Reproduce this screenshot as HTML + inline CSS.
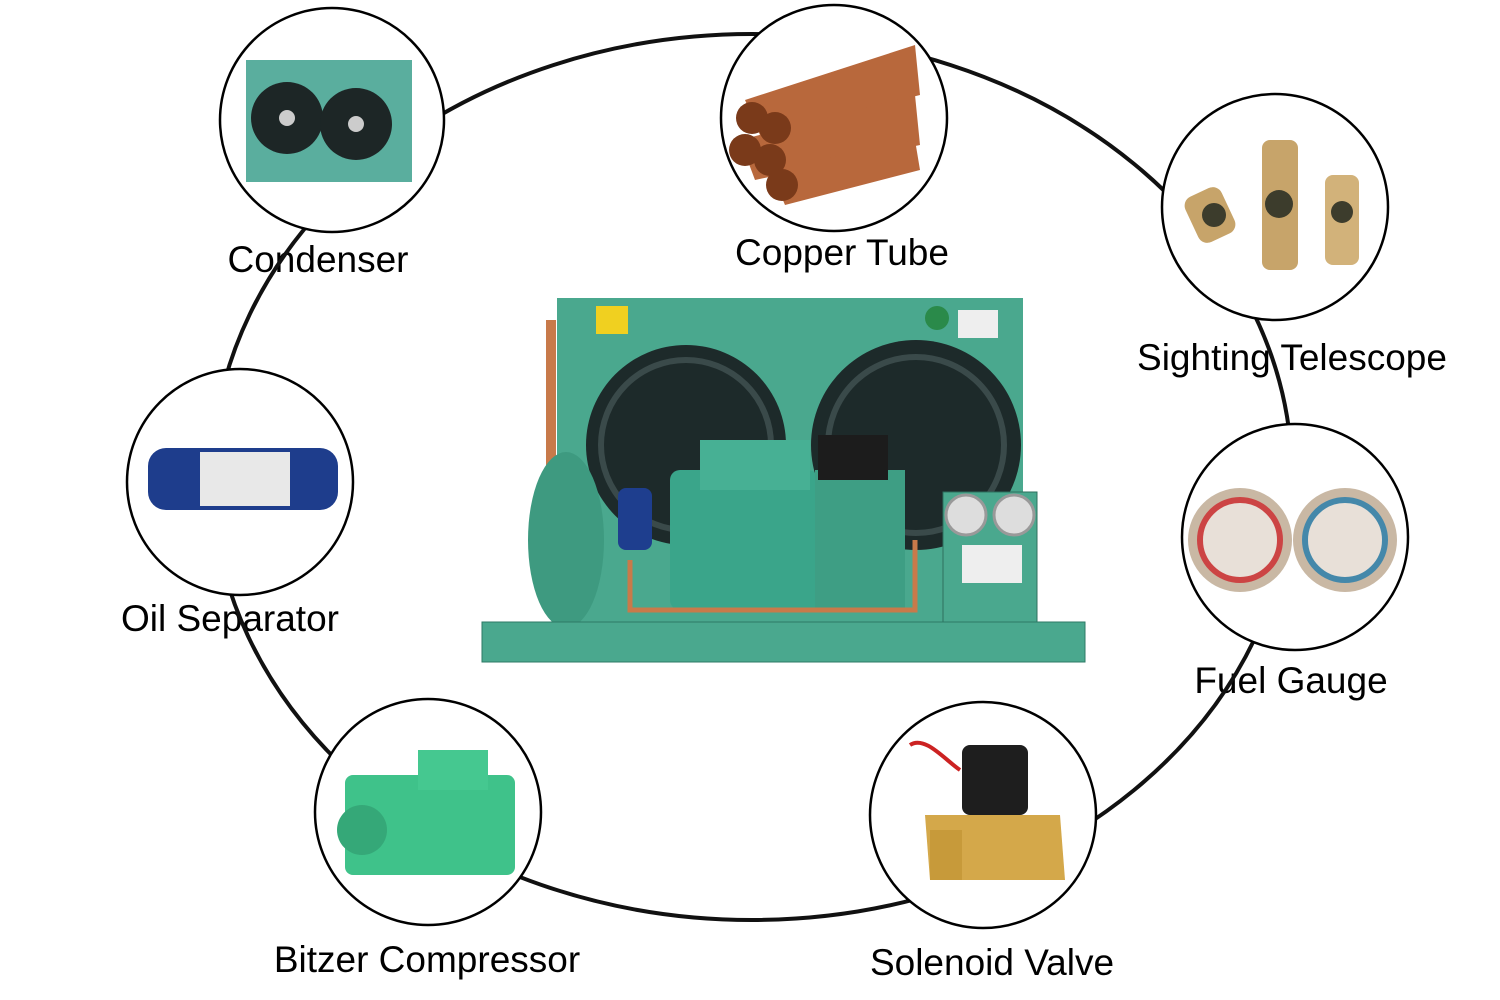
<!DOCTYPE html>
<html><head><meta charset="utf-8"><style>
html,body{margin:0;padding:0;background:#fff;}
svg{display:block}
text{font-family:"Liberation Sans",Arial,sans-serif;font-size:37px;fill:#000;text-anchor:middle}
</style></head><body>
<svg width="1500" height="1000" viewBox="0 0 1500 1000" xmlns="http://www.w3.org/2000/svg">
<!-- labels -->
<text x="318" y="272">Condenser</text>
<text x="842" y="265">Copper Tube</text>
<text x="1292" y="370">Sighting Telescope</text>
<text x="230" y="631">Oil Separator</text>
<text x="1291" y="693">Fuel Gauge</text>
<text x="427" y="972">Bitzer Compressor</text>
<text x="992" y="975">Solenoid Valve</text>
<!-- loop -->
<ellipse cx="752" cy="477" rx="540" ry="443" fill="none" stroke="#111" stroke-width="4"/>

<!-- central unit -->
<rect x="557" y="298" width="466" height="330" fill="#4aa88e"/>
<circle cx="686" cy="445" r="100" fill="#1d2a2a"/>
<circle cx="686" cy="445" r="85" fill="none" stroke="#3a4a4a" stroke-width="6"/>
<circle cx="916" cy="445" r="105" fill="#1d2a2a"/>
<circle cx="916" cy="445" r="88" fill="none" stroke="#3a4a4a" stroke-width="6"/>
<rect x="596" y="306" width="32" height="28" fill="#f0d020"/>
<rect x="958" y="310" width="40" height="28" fill="#eee"/>
<circle cx="937" cy="318" r="12" fill="#2a8a4a"/>
<rect x="546" y="320" width="10" height="150" fill="#c87a4a"/>
<ellipse cx="566" cy="540" rx="38" ry="88" fill="#3e9a80"/>
<rect x="618" y="488" width="34" height="62" rx="8" fill="#1e3e8e"/>
<rect x="670" y="470" width="148" height="140" rx="10" fill="#3aa58a"/>
<rect x="700" y="440" width="110" height="50" fill="#47b094"/>
<rect x="815" y="470" width="90" height="140" fill="#3e9e84"/>
<rect x="818" y="435" width="70" height="45" fill="#1c1c1c"/>
<rect x="943" y="492" width="94" height="144" fill="#4aa88e" stroke="#2d6f5e"/>
<circle cx="966" cy="515" r="20" fill="#ddd" stroke="#999" stroke-width="3"/>
<circle cx="1014" cy="515" r="20" fill="#ddd" stroke="#999" stroke-width="3"/>
<rect x="962" y="545" width="60" height="38" fill="#eee"/>
<path d="M630 560 V610 H915 V540" fill="none" stroke="#c87a4a" stroke-width="5"/>
<rect x="482" y="622" width="603" height="40" fill="#4aa88e" stroke="#2d7a66"/>

<!-- circles -->
<g fill="#fff" stroke="#000" stroke-width="2.5">
<circle cx="332" cy="120" r="112"/>
<circle cx="834" cy="118" r="113"/>
<circle cx="1275" cy="207" r="113"/>
<circle cx="240" cy="482" r="113"/>
<circle cx="1295" cy="537" r="113"/>
<circle cx="428" cy="812" r="113"/>
<circle cx="983" cy="815" r="113"/>
</g>

<!-- condenser -->
<rect x="246" y="60" width="166" height="122" fill="#5aae9e"/>
<circle cx="287" cy="118" r="36" fill="#1d2626"/>
<circle cx="356" cy="124" r="36" fill="#1d2626"/>
<circle cx="287" cy="118" r="8" fill="#ccc"/><circle cx="356" cy="124" r="8" fill="#ccc"/>
<!-- copper tubes -->
<g fill="#b8683c">
<path d="M745 100 L915 45 L920 95 L760 135 Z"/>
<path d="M740 140 L915 95 L920 145 L755 180 Z"/>
<path d="M770 170 L915 140 L920 170 L785 205 Z"/>
</g>
<g fill="#7a3a1a"><circle cx="752" cy="118" r="16"/><circle cx="775" cy="128" r="16"/><circle cx="745" cy="150" r="16"/><circle cx="770" cy="160" r="16"/><circle cx="782" cy="185" r="16"/></g>
<!-- sight glasses -->
<rect x="1262" y="140" width="36" height="130" rx="8" fill="#c7a46a"/>
<circle cx="1279" cy="204" r="14" fill="#3c3c2c"/>
<rect x="1190" y="190" width="40" height="50" rx="10" fill="#c7a46a" transform="rotate(-25 1210 215)"/>
<circle cx="1214" cy="215" r="12" fill="#3c3c2c"/>
<rect x="1325" y="175" width="34" height="90" rx="8" fill="#d2b27a"/>
<circle cx="1342" cy="212" r="11" fill="#3c3c2c"/>
<!-- oil separator -->
<rect x="148" y="448" width="190" height="62" rx="18" fill="#1e3d8c"/>
<rect x="200" y="452" width="90" height="54" fill="#e8e8e8"/>
<!-- fuel gauges -->
<circle cx="1240" cy="540" r="52" fill="#c9b8a4"/><circle cx="1240" cy="540" r="40" fill="#e8e0d8" stroke="#c44" stroke-width="6"/>
<circle cx="1345" cy="540" r="52" fill="#c9b8a4"/><circle cx="1345" cy="540" r="40" fill="#e8e0d8" stroke="#48a" stroke-width="6"/>
<!-- compressor -->
<rect x="345" y="775" width="170" height="100" rx="8" fill="#3fc28a"/>
<rect x="418" y="750" width="70" height="40" fill="#45c890"/>
<circle cx="362" cy="830" r="25" fill="#35a878"/>
<!-- solenoid valve -->
<rect x="962" y="745" width="66" height="70" rx="8" fill="#1e1e1e"/>
<path d="M925 815 H1060 L1065 880 H930 Z" fill="#d4a84a"/>
<rect x="930" y="830" width="32" height="50" fill="#c79a3a"/>
<path d="M910 745 C925 735,945 760,960 770" stroke="#c22" stroke-width="4" fill="none"/>
</svg>
</body></html>
